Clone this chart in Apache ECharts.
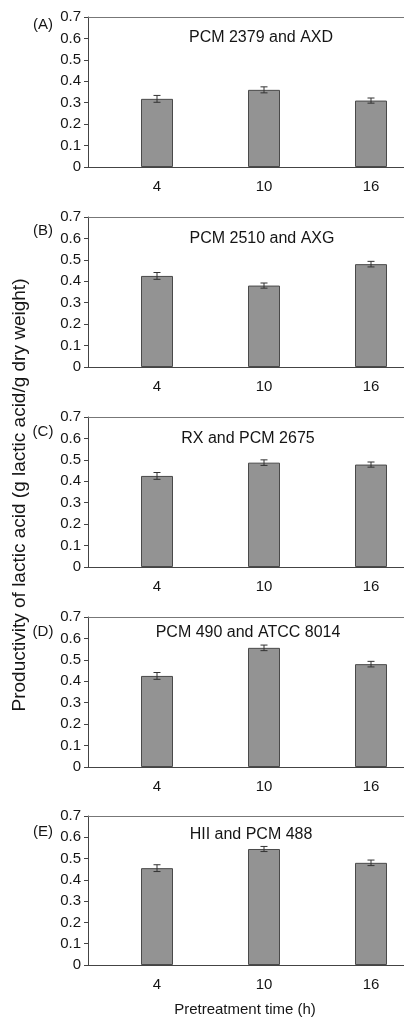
<!DOCTYPE html>
<html><head><meta charset="utf-8">
<script src="https://cdn.jsdelivr.net/npm/echarts@6/dist/echarts.min.js"></script>
<style>html,body{margin:0;padding:0;background:#fff}#c{width:404px;height:1019px}</style>
</head><body><div id="c"></div>
<script>
const times = [4, 10, 16];
const panelLetters = ['(A)', '(B)', '(C)', '(D)', '(E)'];
const panelTitles = ['PCM 2379 and AXD', 'PCM 2510 and AXG', 'RX and PCM 2675', 'PCM 490 and ATCC 8014', 'HII and PCM 488'];
const valuesA = [0.318, 0.360, 0.310];
const valuesB = [0.425, 0.380, 0.480];
const valuesC = [0.425, 0.487, 0.478];
const valuesD = [0.425, 0.556, 0.480];
const valuesE = [0.455, 0.545, 0.480];
const errorsA = [0.016, 0.014, 0.012];
const errorsB = [0.016, 0.012, 0.013];
const errorsC = [0.016, 0.013, 0.012];
const errorsD = [0.016, 0.013, 0.013];
const errorsE = [0.016, 0.012, 0.013];
const yTicks = [0, 0.1, 0.2, 0.3, 0.4, 0.5, 0.6, 0.7];
const xTitle = 'Pretreatment time (h)';
const yTitle = 'Productivity of lactic acid (g lactic acid/g dry weight)';

const values = [valuesA, valuesB, valuesC, valuesD, valuesE];
const errors = [errorsA, errorsB, errorsC, errorsD, errorsE];
const gridTops = [17, 217, 417, 617, 816];
const gridH = [150, 150, 150, 150, 149];
const letterY = [25, 231, 432, 632, 832];
const titleX = [261, 262, 248, 248, 251];
const titleY = [38, 239, 439, 633, 835];
const FONT = '"Liberation Sans", Arial, sans-serif';
const TXT = '#151515';

const grids = [], xAxes = [], yAxes = [], series = [], graphics = [];
function txt(s, x, y, size, rot) {
  return {type: 'text', x: x, y: y, rotation: rot || 0, silent: true,
    style: {text: s, fill: TXT, font: size + 'px ' + FONT, textAlign: 'center', textVerticalAlign: 'middle'}};
}
for (let i = 0; i < 5; i++) {
  grids.push({left: 88, right: 0, top: gridTops[i], height: gridH[i], show: false});
  xAxes.push({type: 'value', gridIndex: i, min: 0.13, max: 17.85,
    axisLine: {show: true, onZero: false, lineStyle: {color: '#444', width: 1}},
    axisTick: {show: false}, splitLine: {show: false},
    axisLabel: {color: TXT, fontSize: 15, fontFamily: FONT, margin: 12, customValues: times,
      formatter: v => String(v)}});
  xAxes.push({type: 'value', gridIndex: i, position: 'top', min: 0.13, max: 17.85,
    axisLine: {show: true, onZero: false, lineStyle: {color: '#777', width: 1}},
    axisTick: {show: false}, axisLabel: {show: false}, splitLine: {show: false}});
  yAxes.push({type: 'value', gridIndex: i, min: 0, max: 0.7, interval: 0.1,
    axisLine: {show: true, lineStyle: {color: '#444', width: 1}},
    axisTick: {show: true, length: 4, lineStyle: {color: '#444'}}, splitLine: {show: false},
    axisLabel: {color: TXT, fontSize: 15, fontFamily: FONT, margin: 7,
      formatter: v => { const t = yTicks.find(x => Math.abs(x - v) < 1e-9); return t === 0 ? '0' : t.toFixed(1); }}});
  series.push({type: 'bar', xAxisIndex: 2 * i, yAxisIndex: i, barWidth: 32,
    data: times.map((t, j) => [t, values[i][j]]),
    itemStyle: {color: '#939393', borderColor: '#4a4a4a', borderWidth: 1}, silent: true});
  series.push({type: 'custom', xAxisIndex: 2 * i, yAxisIndex: i, silent: true, z: 5,
    data: times.map((t, j) => [t, values[i][j] - errors[i][j], values[i][j] + errors[i][j]]),
    renderItem: (params, api) => {
      const lo = api.coord([api.value(0), api.value(1)]);
      const hi = api.coord([api.value(0), api.value(2)]);
      const w = 3.5, st = {stroke: '#333', lineWidth: 1};
      return {type: 'group', children: [
        {type: 'line', shape: {x1: lo[0], y1: lo[1], x2: hi[0], y2: hi[1]}, style: st},
        {type: 'line', shape: {x1: lo[0] - w, y1: lo[1], x2: lo[0] + w, y2: lo[1]}, style: st},
        {type: 'line', shape: {x1: hi[0] - w, y1: hi[1], x2: hi[0] + w, y2: hi[1]}, style: st}
      ]};
    }});
  graphics.push(txt(panelLetters[i], 43, letterY[i], 15));
  graphics.push(txt(panelTitles[i], titleX[i], titleY[i], 16));
}
graphics.push(txt(xTitle, 245, 1010, 15));
graphics.push(txt(yTitle, 20, 495, 19, Math.PI / 2));

const chart = echarts.init(document.getElementById('c'), null, {renderer: 'canvas'});
chart.setOption({
  animation: false,
  grid: grids, xAxis: xAxes, yAxis: yAxes, series: series,
  graphic: graphics
});
</script></body></html>
